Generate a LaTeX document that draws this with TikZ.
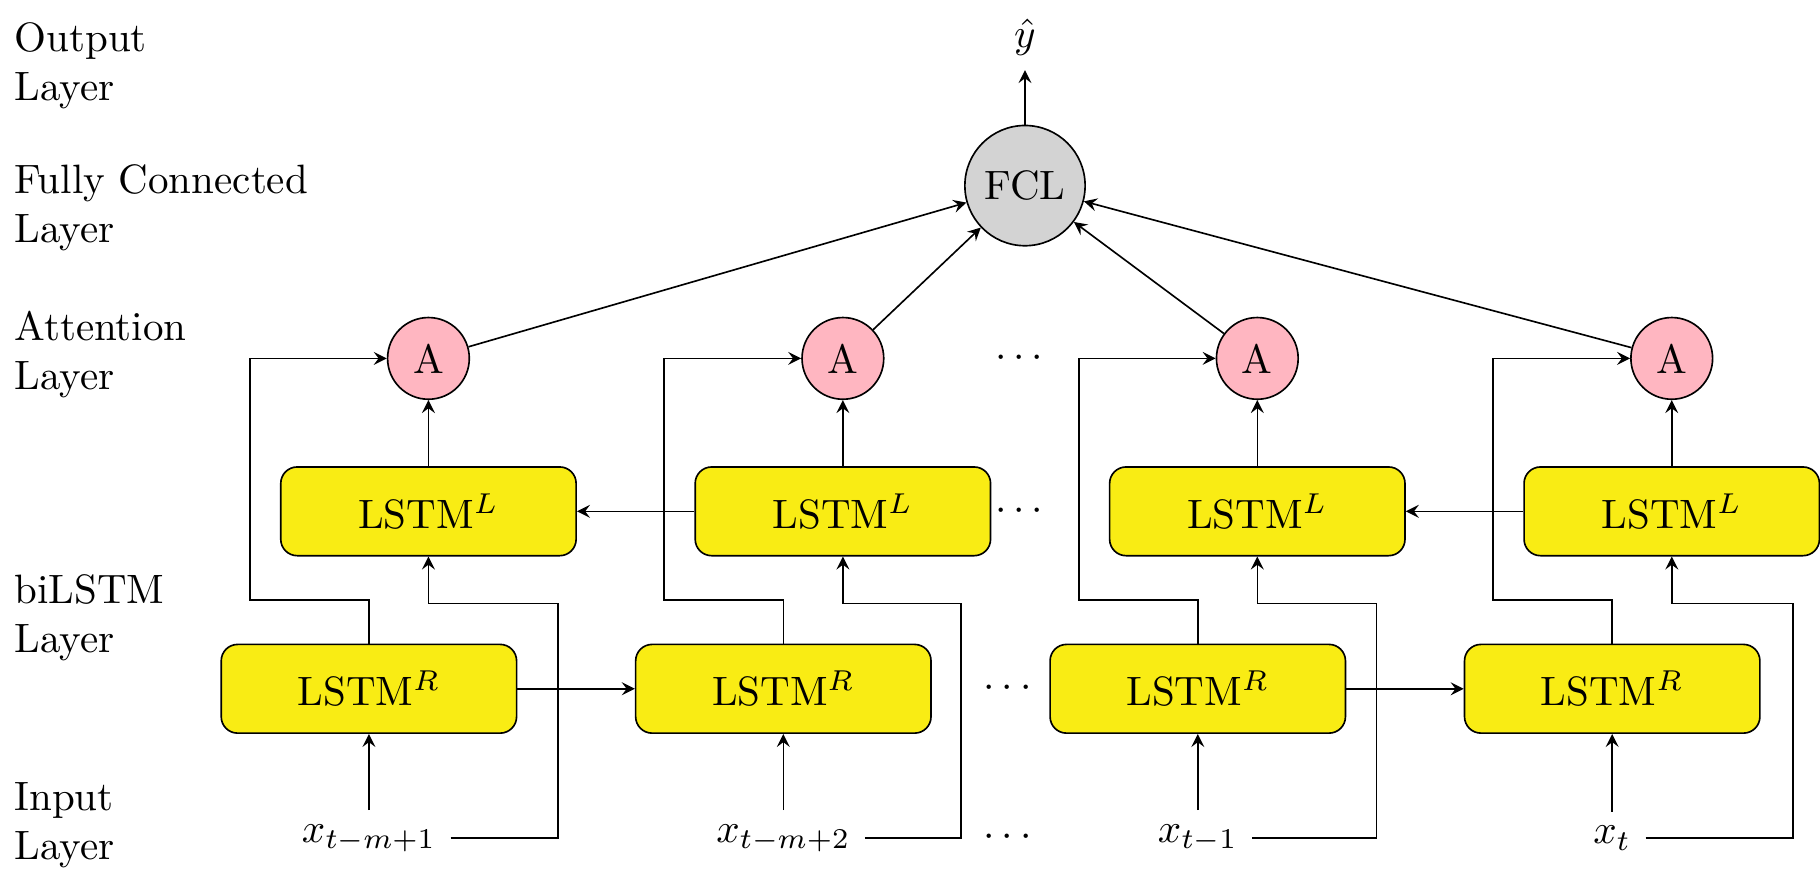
\documentclass[tikz,border=0pt]{standalone}
\usepackage{amsmath}
\usepackage{amssymb}
\usepackage{tikz}
\usetikzlibrary{arrows}
\definecolor{lstmyellow}{RGB}{249,236,20}
\definecolor{attpink}{RGB}{255,182,193}
\definecolor{fclgray}{RGB}{211,211,211}

\begin{document}
\begin{tikzpicture}[>=stealth,
	lstm/.style={draw, fill=lstmyellow, rounded corners, minimum width=2.53cm, minimum height=0.76cm},
	att/.style={draw, circle, fill=attpink, minimum size=0.7cm, inner sep=0pt},
	fclnode/.style={draw, circle, fill=fclgray, minimum size=1.03cm, inner sep=0pt},
	layer/.style={anchor=west, align=left}]

	\useasboundingbox (0,0) rectangle (15.59,7.56);

	% layer names
	\node[layer] (outlab) at (0,7.00) {Output\\Layer};
	\node[layer] (fcllab) at (0,5.78) {Fully Connected\\Layer};
	\node[layer] (attlab) at (0,4.52) {Attention\\Layer};
	\node[layer] (bilab) at (0,2.27) {biLSTM\\Layer};
	\node[layer] (inlab) at (0,0.49) {Input\\Layer};

	\node (x1) at (3.16,0.38) {$x_{t-m+1}$};
	\node (x2) at (6.71,0.38) {$x_{t-m+2}$};
	\node (x3) at (10.26,0.38) {$x_{t-1}$};
	\node (x4) at (13.81,0.38) {$x_{t}$};

	\node[lstm] (r1) at (3.16,1.66) {LSTM$^R$};
	\node[lstm] (r2) at (6.71,1.66) {LSTM$^R$};
	\node[lstm] (r3) at (10.26,1.66) {LSTM$^R$};
	\node[lstm] (r4) at (13.81,1.66) {LSTM$^R$};

	\node[lstm] (l1) at (3.67,3.18) {LSTM$^L$};
	\node[lstm] (l2) at (7.22,3.18) {LSTM$^L$};
	\node[lstm] (l3) at (10.77,3.18) {LSTM$^L$};
	\node[lstm] (l4) at (14.32,3.18) {LSTM$^L$};

	\node[att] (a1) at (3.67,4.49) {A};
	\node[att] (a2) at (7.22,4.49) {A};
	\node[att] (a3) at (10.77,4.49) {A};
	\node[att] (a4) at (14.32,4.49) {A};

	\node[fclnode] (fcl) at (8.78,5.97) {FCL};
	\node (yhat) at (8.78,7.24) {$\hat{y}$};

	\node (d1) at (8.66,0.39) {$\cdots$};
	\node (d2) at (8.66,1.66) {$\cdots$};
	\node (d3) at (8.76,3.18) {$\cdots$};
	\node (d4) at (8.76,4.49) {$\cdots$};

	% corners of the feedback lines
	\coordinate (j1) at (2.14,2.42);
	\coordinate (j2) at (5.69,2.42);
	\coordinate (j3) at (9.24,2.42);
	\coordinate (j4) at (12.79,2.42);
	\coordinate (k1) at (4.78,2.39);
	\coordinate (k2) at (8.23,2.39);
	\coordinate (k3) at (11.79,2.39);
	\coordinate (k4) at (15.36,2.39);

	\draw[->] (x1) -- (r1);
	\draw[->] (x2) -- (r2);
	\draw[->] (x3) -- (r3);
	\draw[->] (x4) -- (r4);

	\draw[->] (x1.east) -| (k1) -| (l1.south);
	\draw[->] (x2.east) -| (k2) -| (l2.south);
	\draw[->] (x3.east) -| (k3) -| (l3.south);
	\draw[->] (x4.east) -| (k4) -| (l4.south);

	\draw[->] (r1.north) |- (j1) |- (a1.west);
	\draw[->] (r2.north) |- (j2) |- (a2.west);
	\draw[->] (r3.north) |- (j3) |- (a3.west);
	\draw[->] (r4.north) |- (j4) |- (a4.west);

	\draw[->] (r1) -- (r2);
	\draw[->] (r3) -- (r4);
	\draw[->] (l2) -- (l1);
	\draw[->] (l4) -- (l3);

	\draw[->] (l1) -- (a1);
	\draw[->] (l2) -- (a2);
	\draw[->] (l3) -- (a3);
	\draw[->] (l4) -- (a4);

	\draw[->] (a1) -- (fcl);
	\draw[->] (a2) -- (fcl);
	\draw[->] (a3) -- (fcl);
	\draw[->] (a4) -- (fcl);
	\draw[->] (fcl) -- (yhat);

\end{tikzpicture}
\end{document}
